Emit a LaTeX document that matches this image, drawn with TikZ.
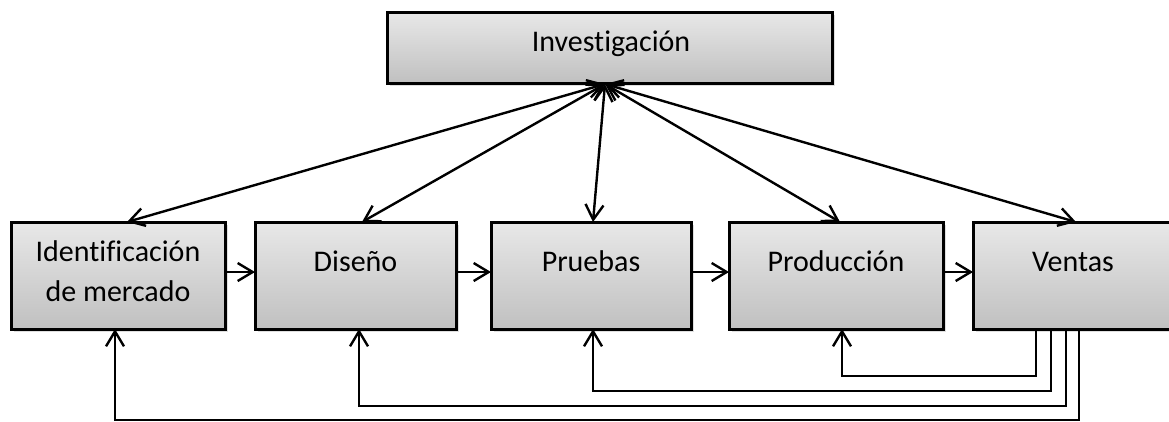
\documentclass[tikz,border=0pt]{standalone}
\usepackage{fontspec}
\setmainfont{Carlito}[Ligatures=NoCommon]
\usetikzlibrary{arrows.meta,shadows}
\definecolor{boxtop}{HTML}{E8E8E8}
\definecolor{boxbot}{HTML}{C0C0C0}
\begin{document}
\begin{tikzpicture}[x=1pt,y=-1pt,
  box/.style={draw=black, line width=3pt, top color=boxtop, bottom color=boxbot,
    minimum height=107pt, inner sep=0pt, outer sep=0pt,
    drop shadow={opacity=0.25, shadow xshift=2.5pt, shadow yshift=-3pt}},
  lbl/.style={font=\fontsize{30}{40}\selectfont, inner sep=0pt, anchor=base, align=center},
  conn/.style={line width=2.4pt, -{Straight Barb[length=15pt, width=18pt]}},
  dconn/.style={line width=2.4pt, {Straight Barb[length=15pt, width=18pt]}-{Straight Barb[length=15pt, width=18pt]}},
  fb/.style={line width=1.8pt, -{Straight Barb[length=15pt, width=18pt, line width=2.4pt]}}
]
\useasboundingbox (0,0) rectangle (1169,421);

% boxes
\node[box, minimum width=445pt, minimum height=71pt] (inv) at (609.5,47.5) {};
\node[box, minimum width=214pt] (ident) at (118,275.5) {};
\node[box, minimum width=201pt] (dis) at (355.5,275.5) {};
\node[box, minimum width=200pt] (pru) at (591,275.5) {};
\node[box, minimum width=214pt] (prod) at (836,275.5) {};
\node[box, minimum width=200pt] (ven) at (1073,275.5) {};

% labels
\node[lbl] (tinv) at (611,51) {Investigación};
\node[lbl, anchor=center] (tident) at (118,271) {Identificación\\de mercado};
\node[lbl] (tdis) at (355.5,271) {Diseño};
\node[lbl] (tpru) at (591,271) {Pruebas};
\node[lbl] (tprod) at (836,271) {Producción};
\node[lbl] (tven) at (1073,271) {Ventas};

% hub under Investigación
\coordinate (hub) at (605,84);

% two-way arrows
\draw[dconn] (hub) -- ([xshift=9pt]ident.north);
\draw[dconn] (hub) -- ([xshift=6.5pt]dis.north);
\draw[dconn] (hub) -- ([xshift=2pt]pru.north);
\draw[dconn] (hub) -- ([xshift=4pt]prod.north);
\draw[dconn] (hub) -- ([xshift=3pt]ven.north);

% sequence arrows
\draw[conn] ([yshift=3.5pt]ident.east) -- ([yshift=3.5pt]dis.west);
\draw[conn] ([yshift=3.5pt]dis.east) -- ([yshift=3.5pt]pru.west);
\draw[conn] ([yshift=3.5pt]pru.east) -- ([yshift=3.5pt]prod.west);
\draw[conn] ([yshift=3.5pt]prod.east) -- ([yshift=3.5pt]ven.west);

% feedback lines
\draw[fb] ([xshift=-37pt]ven.south) -- ++(0,47) -| ([xshift=6pt]prod.south);
\draw[fb] ([xshift=-22pt]ven.south) -- ++(0,62) -| ([xshift=2pt]pru.south);
\draw[fb] ([xshift=-7pt]ven.south) -- ++(0,77) -| ([xshift=3.5pt]dis.south);
\draw[fb] ([xshift=6pt]ven.south) -- ++(0,91) -| ([xshift=-3pt]ident.south);
\end{tikzpicture}
\end{document}
